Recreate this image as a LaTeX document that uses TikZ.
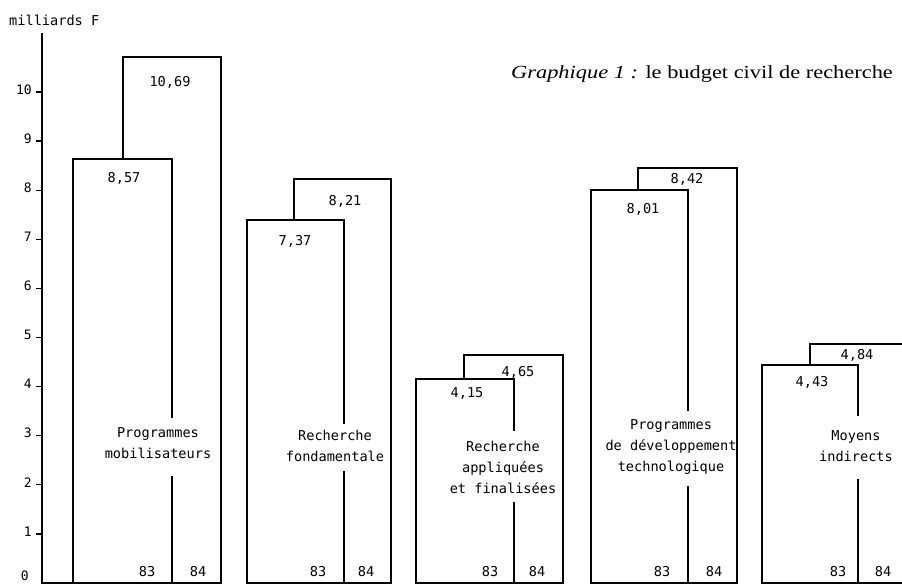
\documentclass[tikz,border=0pt]{standalone}
\usepackage{fontspec}
\usepackage{graphicx}
\setmainfont{Liberation Serif}
\newfontfamily\chartmono{DejaVu Sans Mono}
\tikzset{
  barline/.style={line width=1.6pt, line join=miter, line cap=rect},
  axisline/.style={line width=1.7pt},
  valtext/.style={font=\chartmono\fontsize{13.6}{16}\selectfont, inner sep=0pt},
  yeartext/.style={font=\chartmono\fontsize{13.6}{16}\selectfont, inner sep=0pt},
  ticktext/.style={font=\chartmono\fontsize{13}{15}\selectfont, inner sep=0pt, anchor=mid east},
  cattext/.style={font=\chartmono\fontsize{13.6}{21}\selectfont, align=center, inner sep=0pt}
}
\begin{document}
\begin{tikzpicture}[x=1pt,y=-1pt]
\useasboundingbox (0,0) rectangle (902,585);
\clip (0,0) rectangle (902,585);
\fill[white] (0,0) rectangle (902,585);

% axis
\node[font=\chartmono\fontsize{13.6}{16}\selectfont, inner sep=0pt, anchor=west] (unit) at (9,20) {milliards F};
\draw[axisline] (42,33) -- (42,583) -- (73,583);
\foreach \v in {1,...,10}{
  \draw[line width=1.3pt] (36,{583-49.1*\v}) -- (42,{583-49.1*\v});
  \node[ticktext] (tick\v) at (32,{583-49.1*\v}) {\v};
}
\node[ticktext] (tick0) at (29,578) {0};

% title
\node[anchor=base west, inner sep=0pt] (title) at (511,79)
  {\scalebox{1.21}[1]{\fontsize{18.5}{20}\selectfont\textit{Graphique 1 :} le budget civil de recherche}};

% ---- bar pair 1
\draw[barline] (123,159) -- (123,57) -- (221,57) -- (221,583) -- (172,583);
\draw[barline] (172,159) -- (73,159) -- (73,583) -- (172,583);
\draw[barline] (172,159) -- (172,417);
\draw[barline] (172,477) -- (172,583);
\node[valtext] (v1a) at (124,178) {8,57};
\node[valtext] (v1b) at (170,82) {10,69};
\node[cattext] (c1) at (158,443) {Programmes\\mobilisateurs};
\node[yeartext] (y1a) at (147,572) {83};
\node[yeartext] (y1b) at (198,572) {84};

% ---- bar pair 2
\draw[barline] (294,220) -- (294,179) -- (391,179) -- (391,583) -- (344,583);
\draw[barline] (344,220) -- (247,220) -- (247,583) -- (344,583);
\draw[barline] (344,220) -- (344,423);
\draw[barline] (344,472) -- (344,583);
\node[valtext] (v2a) at (295,241) {7,37};
\node[valtext] (v2b) at (345,201) {8,21};
\node[cattext] (c2) at (335,446) {Recherche\\fondamentale};
\node[yeartext] (y2a) at (318,572) {83};
\node[yeartext] (y2b) at (366,572) {84};

% ---- bar pair 3
\draw[barline] (464,379) -- (464,355) -- (563,355) -- (563,583) -- (514,583);
\draw[barline] (514,379) -- (416,379) -- (416,583) -- (514,583);
\draw[barline] (514,379) -- (514,430);
\draw[barline] (514,503) -- (514,583);
\node[valtext] (v3a) at (467,393) {4,15};
\node[valtext] (v3b) at (518,372) {4,65};
\node[cattext] (c3) at (503,467) {Recherche\\appliquées\\et finalisées};
\node[yeartext] (y3a) at (490,572) {83};
\node[yeartext] (y3b) at (537,572) {84};

% ---- bar pair 4
\draw[barline] (638,190) -- (638,168) -- (737,168) -- (737,583) -- (688,583);
\draw[barline] (688,190) -- (591,190) -- (591,583) -- (688,583);
\draw[barline] (688,190) -- (688,410);
\draw[barline] (688,487) -- (688,583);
\node[valtext] (v4a) at (643,209) {8,01};
\node[valtext] (v4b) at (687,179) {8,42};
\node[cattext] (c4) at (671,447) {Programmes\\de développement\\technologique};
\node[yeartext] (y4a) at (662,572) {83};
\node[yeartext] (y4b) at (714,572) {84};

% ---- bar pair 5
\draw[barline] (810,365) -- (810,344) -- (908,344) -- (908,583) -- (858,583);
\draw[barline] (858,365) -- (762,365) -- (762,583) -- (858,583);
\draw[barline] (858,365) -- (858,415);
\draw[barline] (858,480) -- (858,583);
\node[valtext] (v5a) at (812,382) {4,43};
\node[valtext] (v5b) at (857,355) {4,84};
\node[cattext] (c5) at (856,446) {Moyens\\indirects};
\node[yeartext] (y5a) at (838,572) {83};
\node[yeartext] (y5b) at (883,572) {84};
\end{tikzpicture}
\end{document}
